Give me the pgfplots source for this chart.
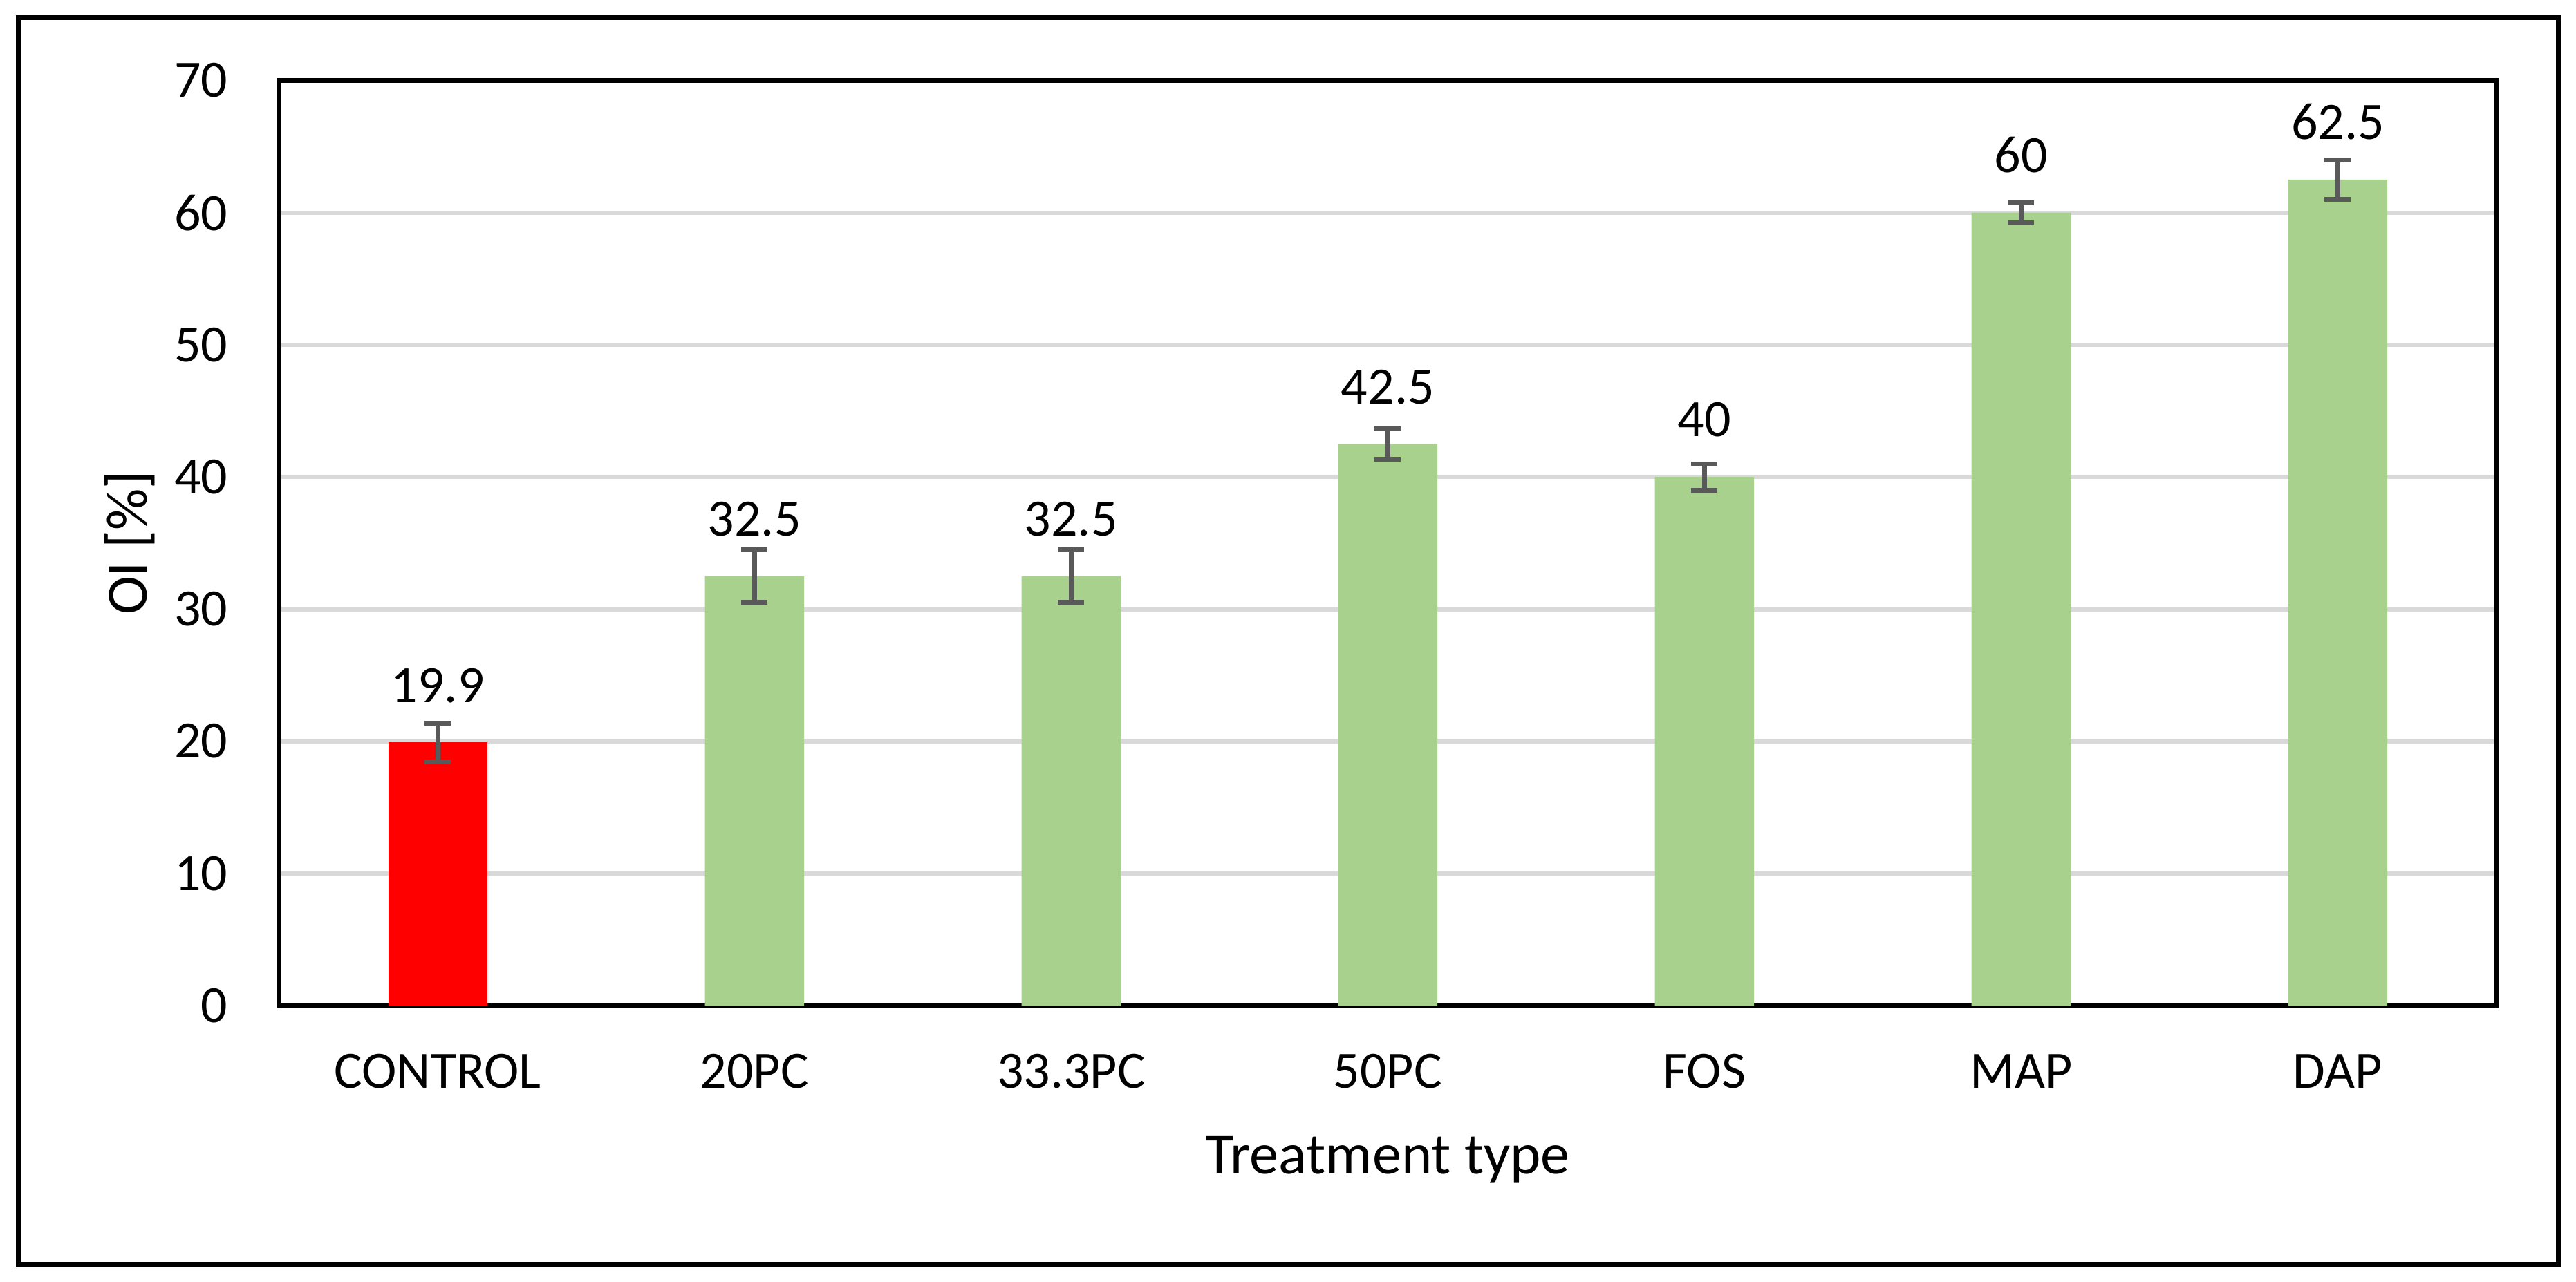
\documentclass[border=0pt]{standalone}
\usepackage{fontspec}
\setmainfont{Carlito}
\usepackage{pgfplots}
\pgfplotsset{compat=1.18}
\usepackage{pgfplotstable}

\definecolor{bargreen}{HTML}{A9D18E}
\definecolor{barred}{HTML}{FF0000}
\definecolor{gridgray}{HTML}{D9D9D9}
\definecolor{errgray}{HTML}{595959}

% x = category index, y = OI, e = error
\pgfplotstableread{
x y e
0 19.9 1.45
}\control
\pgfplotstableread{
x y e
1 32.5 2.0
2 32.5 2.0
3 42.5 1.15
4 40 1.0
5 60 0.75
6 62.5 1.5
}\treated

\begin{document}
\begin{tikzpicture}
\path[use as bounding box] (-47.9pt,-47.4pt) rectangle (393.6pt,172.4pt);
\draw[line width=0.85pt] (-44.7pt,-44.4pt) rectangle (390.6pt,169.4pt);
\begin{axis}[
    scale only axis,
    width=379.9pt, height=158.6pt,
    ybar, bar width=17pt, bar shift=0pt,
    xmin=-0.5, xmax=6.5,
    ymin=0, ymax=70,
    xtick={0,...,6},
    xticklabels={CONTROL,20PC,33.3PC,50PC,FOS,MAP,DAP},
    ytick={0,10,...,70},
    major tick length=0pt,
    axis line style={line width=0.75pt, black},
    ymajorgrids,
    grid style={gridgray, line width=0.75pt},
    /pgf/number format/assume math mode=true,
    tick label style={font=\fontsize{9}{10}\selectfont},
    xticklabel style={anchor=base, yshift=-14.2pt},
    yticklabel style={anchor=east, inner sep=0pt, xshift=-8.7pt},
    xlabel={Treatment type},
    ylabel={OI [\%]},
    label style={font=\fontsize{10}{12}\selectfont},
    xlabel style={at={(axis description cs:0.5,-0.1822)}, anchor=base},
    ylabel style={at={(axis description cs:-0.0598,0.5)}, anchor=base, rotate=0},
    nodes near coords,
    every node near coord/.append style={font=\fontsize{9}{10}\selectfont, anchor=base, yshift=6.9pt, black},
    error bars/y dir=both,
    error bars/y explicit,
    error bars/error bar style={errgray, line width=0.8pt},
    error bars/error mark options={errgray, line width=0.8pt, mark size=2.25pt, rotate=90},
    clip=false,
]
\addplot[fill=barred, draw=none] table[x=x, y=y, y error=e] {\control};
\addplot[fill=bargreen, draw=none] table[x=x, y=y, y error=e] {\treated};
\end{axis}
\end{tikzpicture}
\end{document}
